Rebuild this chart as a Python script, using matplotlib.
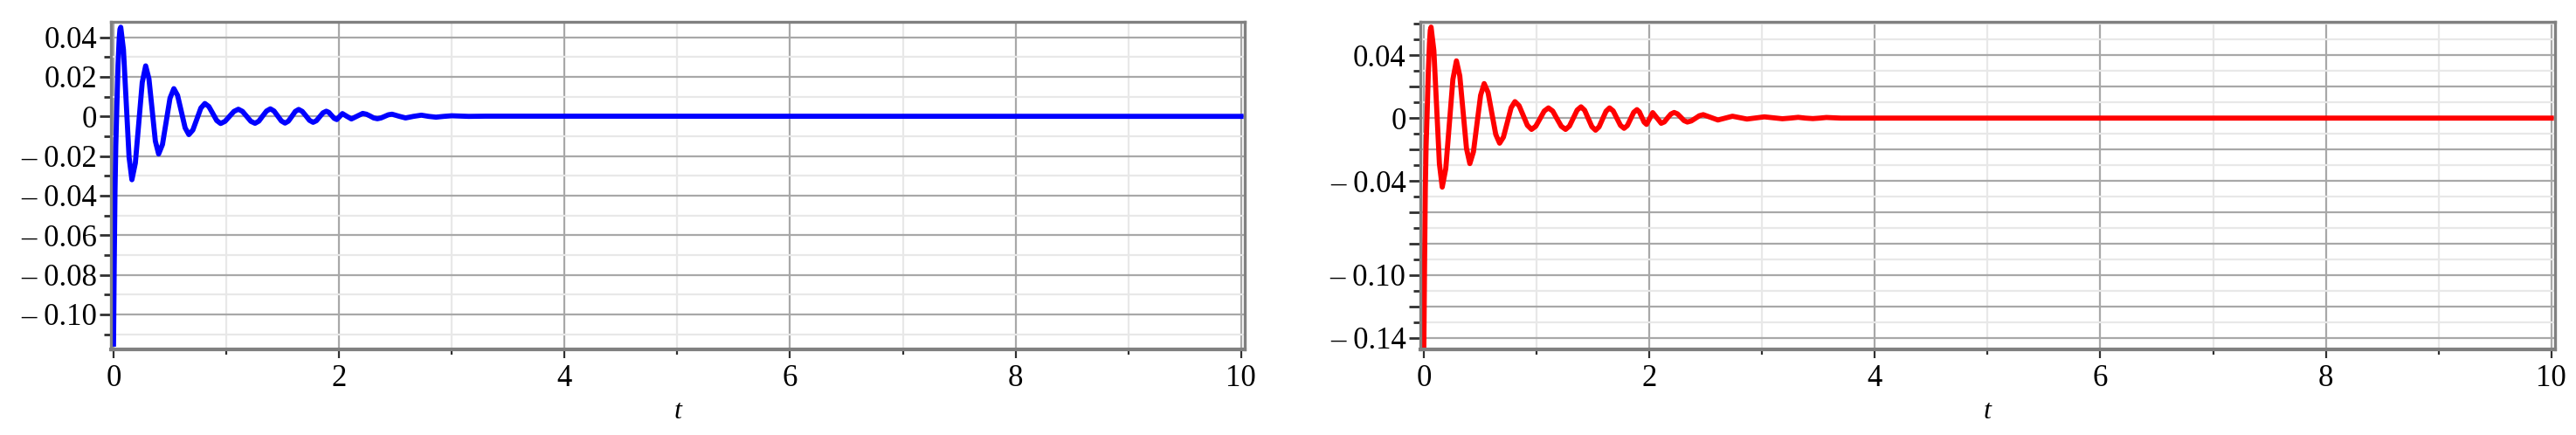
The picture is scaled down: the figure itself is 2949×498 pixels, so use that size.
import numpy as np
import matplotlib.pyplot as plt
from matplotlib.ticker import MultipleLocator

# blue curve (left panel)
t_blue = [0, 0.006, 0.013, 0.02, 0.03, 0.04, 0.05, 0.057, 0.064,
          0.088, 0.113, 0.138, 0.163,
          0.1935, 0.224, 0.2545, 0.285,
          0.314, 0.3425, 0.371, 0.40,
          0.434, 0.4675, 0.501, 0.535,
          0.568, 0.6015, 0.635, 0.668,
          0.7035, 0.739, 0.7745, 0.81,
          0.845, 0.88, 0.915, 0.95,
          0.989, 1.0285, 1.068, 1.107,
          1.144, 1.181, 1.218, 1.255,
          1.289, 1.323, 1.357, 1.391,
          1.4235, 1.456, 1.4885, 1.521,
          1.551, 1.5815, 1.612, 1.642,
          1.674, 1.706, 1.738, 1.77,
          1.799, 1.8285, 1.858, 1.887,
          1.910, 1.9335, 1.957, 1.98,
          2.005, 2.03, 2.07, 2.11, 2.16, 2.21,
          2.2425, 2.275, 2.3075, 2.34,
          2.3725, 2.405, 2.4375, 2.47,
          2.53, 2.59, 2.66, 2.73, 2.795, 2.86,
          2.93, 3.0, 3.15, 3.3, 10]
v_blue = [-0.115, -0.075, -0.038, -0.015, 0.006, 0.026, 0.039, 0.044, 0.045,
          0.0337, 0.0065, -0.0207, -0.032,
          -0.0236, -0.0033, 0.0171, 0.0255,
          0.0190, 0.0033, -0.0125, -0.019,
          -0.0142, -0.0025, 0.0092, 0.014,
          0.0106, 0.0024, -0.0058, -0.0092,
          -0.0069, -0.0014, 0.0042, 0.0065,
          0.0050, 0.0015, -0.0021, -0.0036,
          -0.0025, 0.0, 0.0025, 0.0036,
          0.0025, 0.0, -0.0025, -0.0035,
          -0.0024, 0.0002, 0.0027, 0.0038,
          0.0027, 0.0002, -0.0023, -0.0034,
          -0.0024, 0.0, 0.0025, 0.0035,
          0.0025, 0.0003, -0.0020, -0.003,
          -0.0022, -0.0002, 0.0018, 0.0026,
          0.0020, 0.0005, -0.0010, -0.0016,
          -0.0001, 0.0014, 0.0, -0.0013, 0.0001, 0.0015,
          0.0011, 0.0002, -0.0008, -0.0012,
          -0.0008, 0.0, 0.0008, 0.0011,
          0.0001, -0.0008, 0.0, 0.0006, 0.0, -0.0004,
          0.0, 0.0003, 0.0, 0.0001, 0.0]

# red curve (right panel)
t_red = [0, 0.006, 0.013, 0.02, 0.03, 0.04, 0.05, 0.057, 0.064,
         0.0888, 0.1135, 0.138, 0.163,
         0.1945, 0.226, 0.2575, 0.289,
         0.3188, 0.3485, 0.3783, 0.408,
         0.4398, 0.4715, 0.5033, 0.535,
         0.5693, 0.6035, 0.6378, 0.672,
         0.706, 0.74, 0.774, 0.808,
         0.8448, 0.8815, 0.9183, 0.955,
         0.9925, 1.03, 1.0675, 1.105,
         1.143, 1.181, 1.219, 1.257,
         1.2913, 1.3255, 1.3598, 1.394,
         1.4263, 1.4585, 1.4908, 1.523,
         1.554, 1.585, 1.616, 1.647,
         1.6793, 1.7115, 1.7438, 1.776,
         1.8045, 1.833, 1.8615, 1.890,
         1.9113, 1.9325, 1.9538, 1.975,
         2.0025, 2.03, 2.0675, 2.105,
         2.1338, 2.1625, 2.1913, 2.22,
         2.2493, 2.2785, 2.3078, 2.337,
         2.3723, 2.4075, 2.4428, 2.478,
         2.543, 2.608, 2.6725, 2.737, 2.8015, 2.866,
         2.943, 3.02, 3.10, 3.18, 3.25, 3.32, 3.385, 3.45, 3.51, 3.57,
         3.7, 10]
v_red = [-0.145, -0.095, -0.045, -0.018, 0.005, 0.03, 0.048, 0.056, 0.058,
         0.0431, 0.007, -0.0291, -0.044,
         -0.0322, -0.0038, 0.0247, 0.0365,
         0.0269, 0.0038, -0.0194, -0.029,
         -0.0215, -0.0035, 0.0145, 0.022,
         0.0164, 0.003, -0.0104, -0.016,
         -0.0121, -0.0028, 0.0066, 0.0105,
         0.0079, 0.0017, -0.0046, -0.0072,
         -0.0052, -0.0004, 0.0045, 0.0065,
         0.0045, -0.0004, -0.0052, -0.0072,
         -0.0051, 0.0, 0.0051, 0.0072,
         0.0050, -0.0003, -0.0055, -0.0077,
         -0.0056, -0.0006, 0.0044, 0.0065,
         0.0046, 0.0, -0.0046, -0.0065,
         -0.0048, -0.0006, 0.0037, 0.0054,
         0.0040, 0.0007, -0.0026, -0.004,
         -0.0003, 0.0035, 0.0001, -0.0033,
         -0.0024, 0.0002, 0.0026, 0.0036,
         0.0027, 0.0006, -0.0016, -0.0025,
         -0.0018, -0.0002, 0.0015, 0.0022,
         0.0005, -0.0012, 0.0, 0.0012, 0.0003, -0.0006,
         0.0001, 0.0008, 0.0002, -0.0004, 0.0, 0.0005, 0.0, -0.0003, 0.0, 0.0004,
         0.0, 0.0]

xticks = [0, 2, 4, 6, 8, 10]
xlabels = ['0', '2', '4', '6', '8', '10']

left_yticks = [0.04, 0.02, 0, -0.02, -0.04, -0.06, -0.08, -0.10]
left_ylabels = ['0.04', '0.02', '0', '\u2013 0.02', '\u2013 0.04',
                '\u2013 0.06', '\u2013 0.08', '\u2013 0.10']

right_yticks = [0.04, 0.02, 0, -0.02, -0.04, -0.06, -0.08, -0.10, -0.12, -0.14]
right_ylabels = ['0.04', '', '0', '', '\u2013 0.04', '', '',
                 '\u2013 0.10', '', '\u2013 0.14']

serif = ['Liberation Serif', 'DejaVu Serif']
plt.rcParams['font.family'] = serif

fig = plt.figure(figsize=(29.49, 4.98), dpi=100)
ax1 = fig.add_axes([127 / 2949, 1 - 400.3 / 498, 1298 / 2949, 375 / 498])
ax2 = fig.add_axes([1625.5 / 2949, 1 - 400.3 / 498, 1299.5 / 2949, 375 / 498])


def style(ax, yticks, ylabels, ylim, xlim):
    ax.set_xlim(*xlim)
    ax.set_ylim(*ylim)
    ax.set_xticks(xticks)
    ax.set_xticklabels(xlabels)
    ax.xaxis.set_minor_locator(MultipleLocator(1))
    ax.set_yticks(yticks)
    ax.set_yticklabels(ylabels)
    ax.yaxis.set_minor_locator(MultipleLocator(0.01))
    ax.set_axisbelow(True)
    ax.grid(which='major', color='#a8a8a8', linewidth=1.6)
    ax.grid(which='minor', color='#e8e8e8', linewidth=1.6)
    for s in ax.spines.values():
        s.set_color('#808080')
        s.set_linewidth(2.4)
    ax.spines['bottom'].set_linewidth(3)
    ax.tick_params(axis='y', which='major', length=9.5, width=2, color='#303030',
                   pad=2, labelsize=25)
    ax.tick_params(axis='y', which='minor', length=5.5, width=2, color='#303030')
    ax.tick_params(axis='x', which='major', length=7, width=1.6, color='#303030',
                   pad=5, labelsize=25)
    ax.tick_params(axis='x', which='minor', length=4.5, width=1.6, color='#303030')
    ax.set_xlabel('t', fontsize=23, fontstyle='italic', labelpad=5)


ax1.plot(t_blue, v_blue, color='#0000ff', linewidth=4.2, solid_joinstyle='round')
style(ax1, left_yticks, left_ylabels, (-0.1178, 0.0476), (-0.023, 10.033))

ax2.plot(t_red, v_red, color='#ff0000', linewidth=4.2, solid_joinstyle='round')
style(ax2, right_yticks, right_ylabels, (-0.1476, 0.0612), (-0.035, 10.033))

fig.savefig('out.png', dpi=100)
